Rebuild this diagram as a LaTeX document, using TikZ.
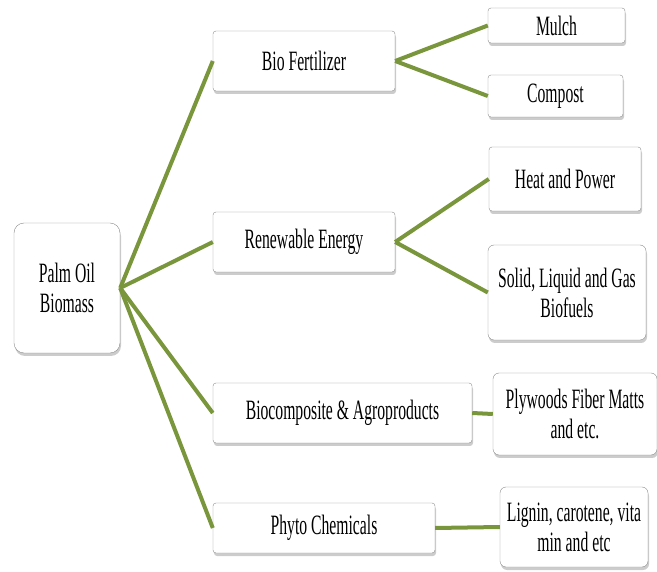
\documentclass[tikz,border=0pt]{standalone}
\usepackage{fontspec}
\setmainfont{Liberation Serif}[FakeStretch=0.56]
\usepackage{tikz}
\usetikzlibrary{shadows,positioning}
\definecolor{leaf}{RGB}{122,150,60}

\begin{document}
\begin{tikzpicture}[x=1pt,y=-1pt,
		box/.style={draw=gray!90,fill=white,rounded corners=3pt,inner sep=0pt,align=center,
			font=\fontsize{28}{30}\selectfont,
			drop shadow={shadow xshift=1pt,shadow yshift=-3pt,opacity=0.4}},
		link/.style={draw=leaf,line width=4pt}]
	\useasboundingbox (0,0) rectangle (657,572);
	% root
	\node[box,rounded corners=10pt,minimum width=106pt,minimum height=130pt] (palm) at (67,288) {Palm Oil\\Biomass};
	% first level
	\node[box,minimum width=182pt,minimum height=60pt] (bio) at (304,61) {Bio Fertilizer};
	\node[box,minimum width=182pt,minimum height=60pt] (renew) at (304,242) {Renewable Energy};
	\node[box,minimum width=259pt,minimum height=60pt] (bioc) at (342.5,413) {Biocomposite \& Agroproducts};
	\node[box,minimum width=222pt,minimum height=50pt] (phyto) at (324,528) {Phyto Chemicals};
	% second level
	\node[box,minimum width=137pt,minimum height=35pt] (mulch) at (556.5,25.5) {Mulch};
	\node[box,minimum width=135pt,minimum height=42pt] (compost) at (555.5,96) {Compost};
	\node[box,minimum width=152pt,minimum height=64pt] (heat) at (565,179) {Heat and Power};
	\node[box,rounded corners=6pt,minimum width=158pt,minimum height=95pt] (fuels) at (567,292.5) {Solid, Liquid and Gas\\Biofuels};
	\node[box,rounded corners=6pt,minimum width=164pt,minimum height=82pt] (plywood) at (575,414) {Plywoods Fiber Matts\\and etc.};
	\node[box,rounded corners=6pt,minimum width=148pt,minimum height=80pt] (lignin) at (574,527) {Lignin, carotene, vita\\min and etc};

	\foreach \c in {bio,renew,bioc,phyto}
	\draw[link] (palm.east) -- (\c.west);
	\foreach \a/\b in {bio/mulch,bio/compost,renew/heat,renew/fuels,bioc/plywood,phyto/lignin}
	\draw[link] (\a.east) -- (\b.west);
\end{tikzpicture}
\end{document}
